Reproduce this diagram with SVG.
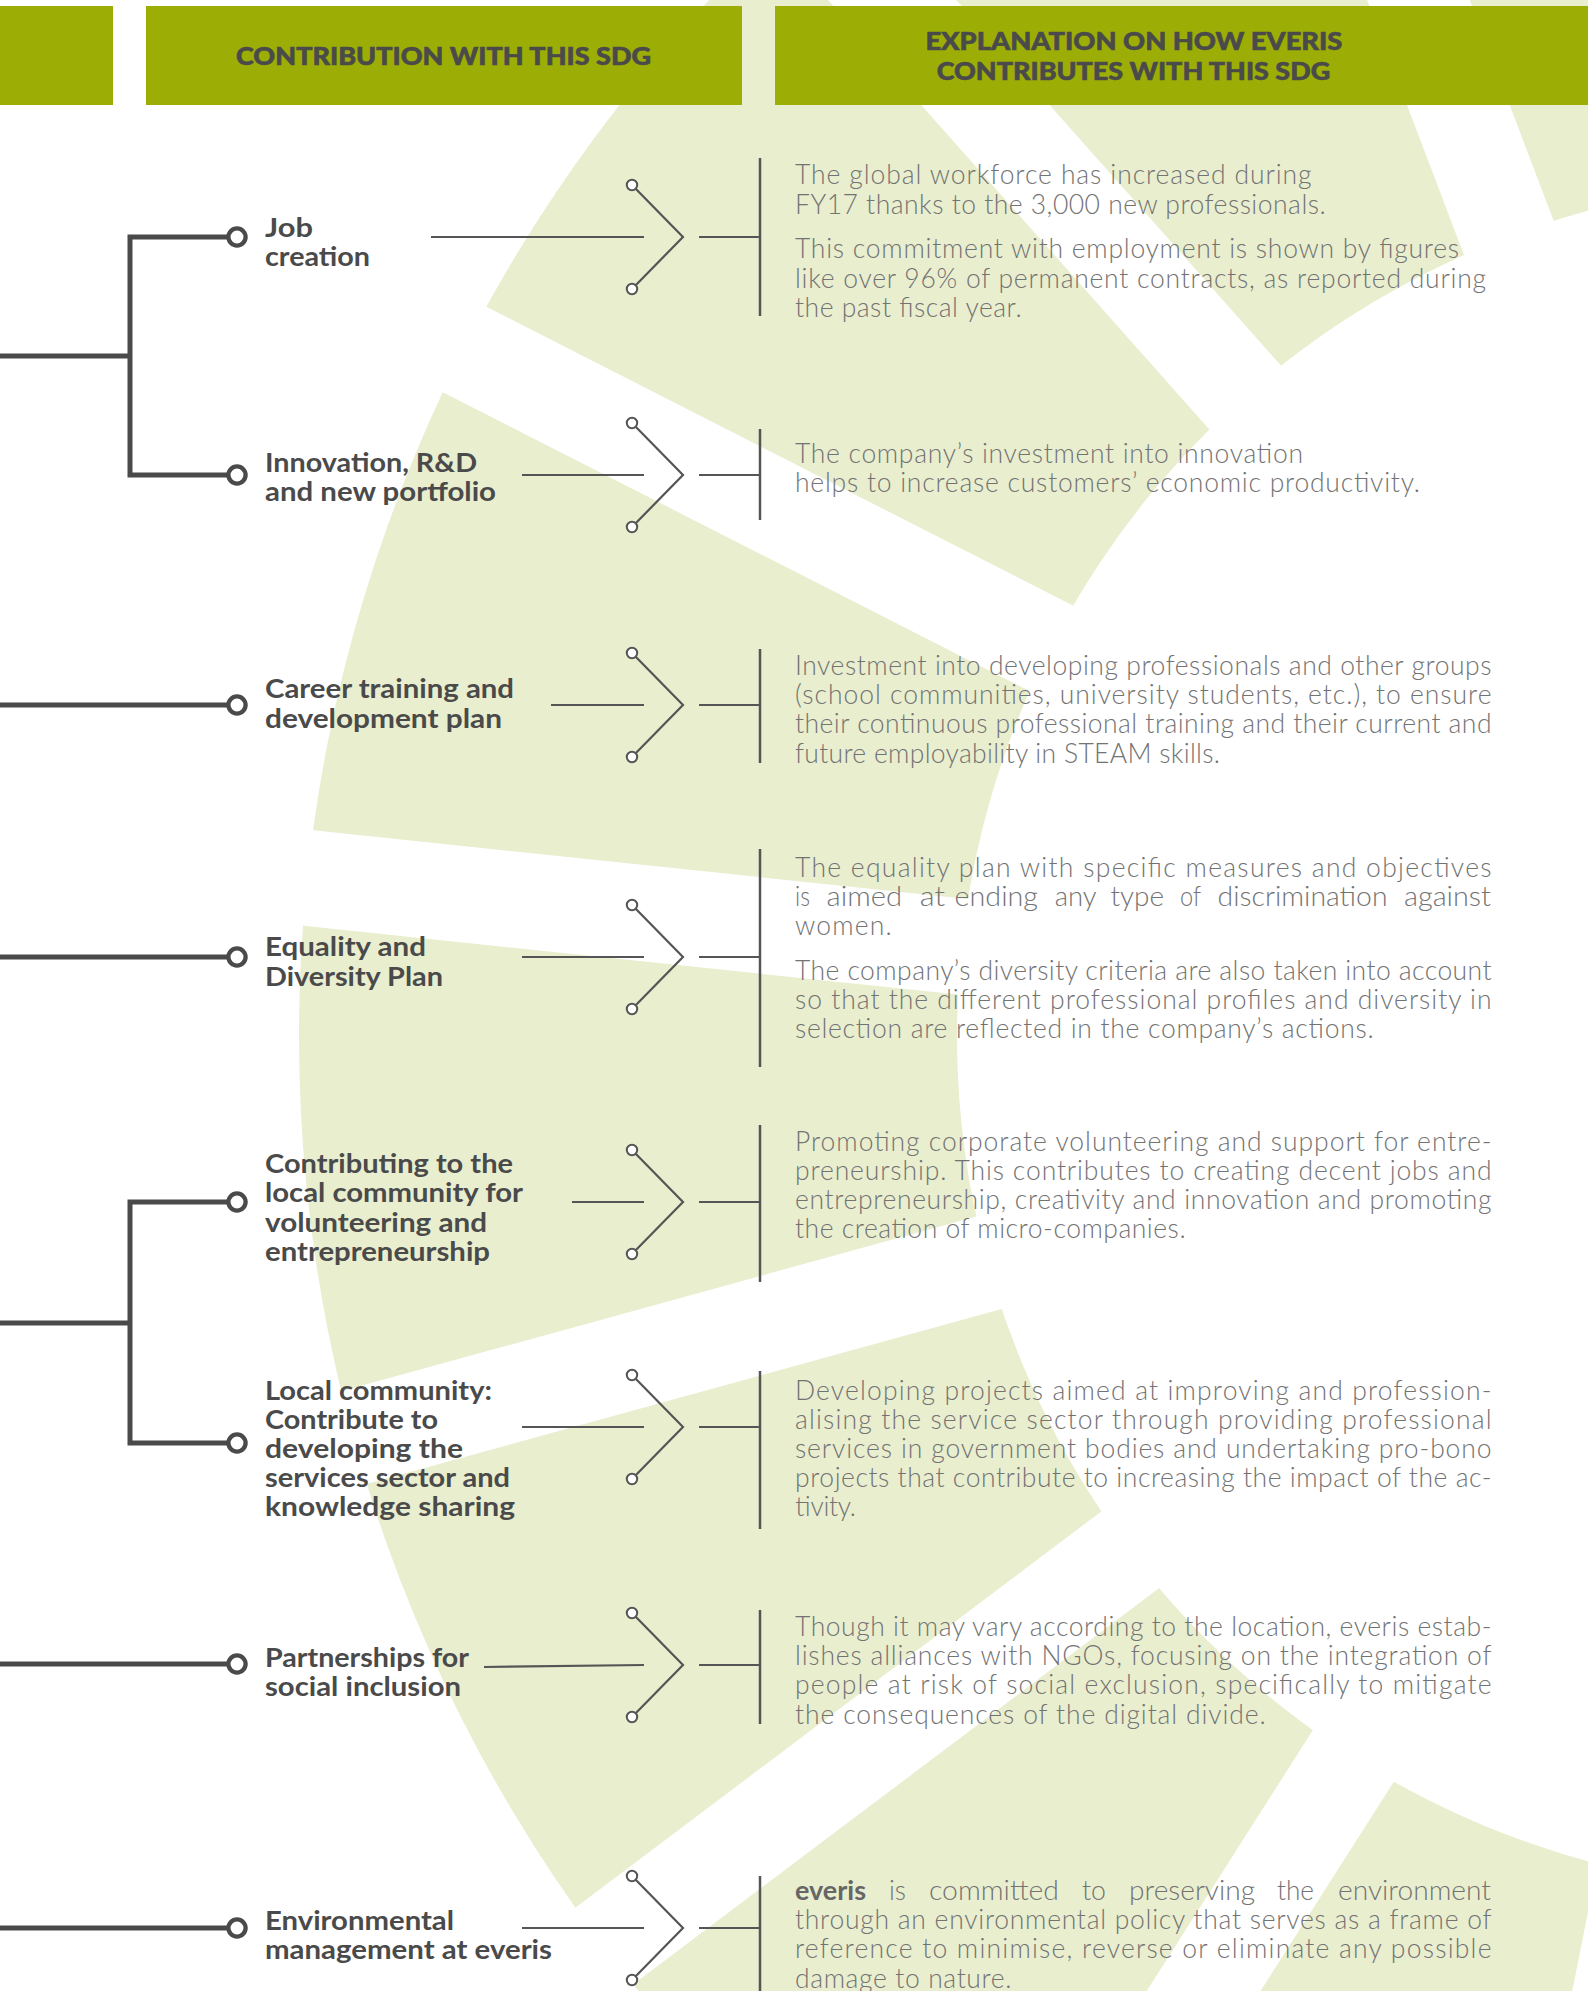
<svg xmlns="http://www.w3.org/2000/svg" xmlns:xlink="http://www.w3.org/1999/xlink" width="1588" height="1991" viewBox="0 0 1588 1991">
<defs>
<style>
.thick{fill:none;stroke:#4a4a4a;stroke-width:5}
.thin{fill:none;stroke:#555;stroke-width:2.2}
.bar{fill:none;stroke:#555;stroke-width:2.5}
.node{fill:#fff;stroke:#4a4a4a;stroke-width:4.3}
.pin{fill:#fff;stroke:#555;stroke-width:2}
.label{font-family:Lato,"Liberation Sans",sans-serif;font-weight:700;font-size:27px;fill:#4a4a4a}
.body{font-family:Lato,"Liberation Sans",sans-serif;font-weight:300;font-size:26.5px;fill:#737373}
.strong{font-weight:700;fill:#666}
.head{font-family:Lato,"Liberation Sans",sans-serif;font-weight:900;font-size:25px;fill:#4a4a4a;stroke:#4a4a4a;stroke-width:0.6}
.hbar{fill:#9cae06}
.ring{fill:#e9eecf}
.gap{fill:#fff}
</style>
<g id="chev">
<polyline class="thin" points="632,-52 683,0 632,52"/>
<circle class="pin" cx="632" cy="-52" r="5.2"/>
<circle class="pin" cx="632" cy="52" r="5.2"/>
<line class="thin" x1="699" y1="0" x2="760" y2="0"/>
</g>
</defs>
<rect width="1588" height="1991" fill="#fff"/>
<g id="background">
<path class="ring" fill-rule="evenodd" d="M299 1036a1513 1513 0 1 0 3026 0a1513 1513 0 1 0 -3026 0z M957 1036a855 855 0 1 0 1710 0a855 855 0 1 0 -1710 0z"/>
<g transform="translate(1812 1036)">
<rect class="gap" x="0" y="-48" width="1700" height="96" transform="rotate(101.3)"/>
<rect class="gap" x="0" y="-48" width="1700" height="96" transform="rotate(122.5)"/>
<rect class="gap" x="0" y="-48" width="1700" height="96" transform="rotate(143)"/>
<rect class="gap" x="0" y="-48" width="1700" height="96" transform="rotate(164.6)"/>
<rect class="gap" x="0" y="-48" width="1700" height="96" transform="rotate(186)"/>
<rect class="gap" x="0" y="-48" width="1700" height="96" transform="rotate(207)"/>
<rect class="gap" x="0" y="-48" width="1700" height="96" transform="rotate(228.4)"/>
<rect class="gap" x="0" y="-48" width="1700" height="96" transform="rotate(249.2)"/>
<rect class="gap" x="0" y="-48" width="1700" height="96" transform="rotate(270.4)"/>
</g>
</g>
<g id="header">
<rect class="hbar" x="0" y="6" width="113" height="99"/>
<g id="head-contribution">
<rect class="hbar" x="146" y="6" width="596" height="99"/>
<text class="head" x="236" y="65" textLength="415" lengthAdjust="spacingAndGlyphs">CONTRIBUTION WITH THIS SDG</text>
</g>
<g id="head-explanation">
<rect class="hbar" x="775" y="6" width="813" height="99"/>
<text class="head" x="925.4" y="50" textLength="417" lengthAdjust="spacingAndGlyphs">EXPLANATION ON HOW EVERIS</text>
<text class="head" x="936.7" y="80" textLength="393.5" lengthAdjust="spacingAndGlyphs">CONTRIBUTES WITH THIS SDG</text>
</g>
</g>
<g id="connectors">
<path class="thick" d="M0 356H130M228 237H130V475H228"/>
<path class="thick" d="M0 705H228"/>
<path class="thick" d="M0 957H228"/>
<path class="thick" d="M0 1323H130M228 1202H130V1443H228"/>
<path class="thick" d="M0 1664H228"/>
<path class="thick" d="M0 1928H228"/>
<line class="thin" x1="431" y1="237" x2="644" y2="237"/>
<line class="thin" x1="522" y1="475" x2="644" y2="475"/>
<line class="thin" x1="551" y1="705" x2="644" y2="705"/>
<line class="thin" x1="522" y1="957" x2="644" y2="957"/>
<line class="thin" x1="572" y1="1202" x2="644" y2="1202"/>
<line class="thin" x1="522" y1="1427" x2="644" y2="1427"/>
<line class="thin" x1="484" y1="1667" x2="644" y2="1665"/>
<line class="thin" x1="522" y1="1928" x2="644" y2="1928"/>
<use xlink:href="#chev" href="#chev" y="237"/>
<use xlink:href="#chev" href="#chev" y="475"/>
<use xlink:href="#chev" href="#chev" y="705"/>
<use xlink:href="#chev" href="#chev" y="957"/>
<use xlink:href="#chev" href="#chev" y="1202"/>
<use xlink:href="#chev" href="#chev" y="1427"/>
<use xlink:href="#chev" href="#chev" y="1665"/>
<use xlink:href="#chev" href="#chev" y="1928"/>
<line class="bar" x1="760" y1="158" x2="760" y2="316"/>
<line class="bar" x1="760" y1="429" x2="760" y2="520"/>
<line class="bar" x1="760" y1="649" x2="760" y2="763"/>
<line class="bar" x1="760" y1="849" x2="760" y2="1067"/>
<line class="bar" x1="760" y1="1125" x2="760" y2="1282"/>
<line class="bar" x1="760" y1="1371" x2="760" y2="1529"/>
<line class="bar" x1="760" y1="1610" x2="760" y2="1724"/>
<line class="bar" x1="760" y1="1876" x2="760" y2="1991"/>
</g>
<g id="node-job">
<circle class="node" cx="237" cy="237" r="8.6"/>
<text class="label" x="265" y="237" textLength="48" lengthAdjust="spacingAndGlyphs">Job</text>
<text class="label" x="265" y="266.4" textLength="105" lengthAdjust="spacingAndGlyphs">creation</text>
</g>
<g id="node-innovation">
<circle class="node" cx="237" cy="475" r="8.6"/>
<text class="label" x="265" y="472" textLength="212" lengthAdjust="spacingAndGlyphs">Innovation, R&amp;D</text>
<text class="label" x="265" y="500.5" textLength="231" lengthAdjust="spacingAndGlyphs">and new portfolio</text>
</g>
<g id="node-career">
<circle class="node" cx="237" cy="705" r="8.6"/>
<text class="label" x="265" y="698" textLength="249" lengthAdjust="spacingAndGlyphs">Career training and</text>
<text class="label" x="265" y="728" textLength="237" lengthAdjust="spacingAndGlyphs">development plan</text>
</g>
<g id="node-equality">
<circle class="node" cx="237" cy="957" r="8.6"/>
<text class="label" x="265" y="956" textLength="161" lengthAdjust="spacingAndGlyphs">Equality and</text>
<text class="label" x="265" y="985.5" textLength="178" lengthAdjust="spacingAndGlyphs">Diversity Plan</text>
</g>
<g id="node-contributing">
<circle class="node" cx="237" cy="1202" r="8.6"/>
<text class="label" x="265" y="1173" textLength="248" lengthAdjust="spacingAndGlyphs">Contributing to the</text>
<text class="label" x="265" y="1202" textLength="258" lengthAdjust="spacingAndGlyphs">local community for</text>
<text class="label" x="265" y="1231.5" textLength="222" lengthAdjust="spacingAndGlyphs">volunteering and</text>
<text class="label" x="265" y="1260.5" textLength="225" lengthAdjust="spacingAndGlyphs">entrepreneurship</text>
</g>
<g id="node-local">
<circle class="node" cx="237" cy="1443" r="8.6"/>
<text class="label" x="265" y="1399.6" textLength="227" lengthAdjust="spacingAndGlyphs">Local community:</text>
<text class="label" x="265" y="1428.7" textLength="173" lengthAdjust="spacingAndGlyphs">Contribute to</text>
<text class="label" x="265" y="1457.7" textLength="198" lengthAdjust="spacingAndGlyphs">developing the</text>
<text class="label" x="265" y="1487" textLength="245" lengthAdjust="spacingAndGlyphs">services sector and</text>
<text class="label" x="265" y="1516" textLength="250" lengthAdjust="spacingAndGlyphs">knowledge sharing</text>
</g>
<g id="node-partnerships">
<circle class="node" cx="237" cy="1664" r="8.6"/>
<text class="label" x="265" y="1666.6" textLength="204" lengthAdjust="spacingAndGlyphs">Partnerships for</text>
<text class="label" x="265" y="1695.8" textLength="196" lengthAdjust="spacingAndGlyphs">social inclusion</text>
</g>
<g id="node-environmental">
<circle class="node" cx="237" cy="1928" r="8.6"/>
<text class="label" x="265" y="1929.5" textLength="189" lengthAdjust="spacingAndGlyphs">Environmental</text>
<text class="label" x="265" y="1958.5" textLength="287" lengthAdjust="spacingAndGlyphs">management at everis</text>
</g>
<g id="desc-job" class="body">
<text x="795" y="184" textLength="516.6" lengthAdjust="spacing">The global workforce has increased during</text>
<text x="795" y="213.5" textLength="530.7" lengthAdjust="spacing">FY17 thanks to the 3,000 new professionals.</text>
<text x="795" y="258" textLength="664" lengthAdjust="spacing">This commitment with employment is shown by figures</text>
<text x="795" y="287.5" textLength="691" lengthAdjust="spacing">like over 96% of permanent contracts, as reported during</text>
<text x="795" y="317" textLength="226.6" lengthAdjust="spacing">the past fiscal year.</text>
</g>
<g id="desc-innovation" class="body">
<text x="795" y="463" textLength="508" lengthAdjust="spacing">The company’s investment into innovation</text>
<text x="795" y="492" textLength="625" lengthAdjust="spacing">helps to increase customers’ economic productivity.</text>
</g>
<g id="desc-career" class="body">
<text x="795" y="675" textLength="696.5" lengthAdjust="spacing">Investment into developing professionals and other groups</text>
<text x="795" y="704.2" textLength="696.5" lengthAdjust="spacing">(school communities, university students, etc.), to ensure</text>
<text x="795" y="733.4" textLength="696.5" lengthAdjust="spacing">their continuous professional training and their current and</text>
<text x="795" y="762.6" textLength="425" lengthAdjust="spacing">future employability in STEAM skills.</text>
</g>
<g id="desc-equality" class="body">
<text x="795" y="877" textLength="696.5" lengthAdjust="spacing">The equality plan with specific measures and objectives</text>
<text x="795" y="906.3" textLength="15" lengthAdjust="spacingAndGlyphs">is</text>
<text x="826.5" y="906.3" textLength="75.5" lengthAdjust="spacingAndGlyphs">aimed</text>
<text x="919.7" y="906.3" textLength="25.3" lengthAdjust="spacingAndGlyphs">at</text>
<text x="954.6" y="906.3" textLength="83.4" lengthAdjust="spacingAndGlyphs">ending</text>
<text x="1054.7" y="906.3" textLength="41.9" lengthAdjust="spacingAndGlyphs">any</text>
<text x="1110.5" y="906.3" textLength="53.5" lengthAdjust="spacingAndGlyphs">type</text>
<text x="1180" y="906.3" textLength="21" lengthAdjust="spacingAndGlyphs">of</text>
<text x="1217.6" y="906.3" textLength="169.9" lengthAdjust="spacingAndGlyphs">discrimination</text>
<text x="1404" y="906.3" textLength="87" lengthAdjust="spacingAndGlyphs">against</text>
<text x="795" y="935" textLength="96.7" lengthAdjust="spacing">women.</text>
<text x="795" y="979.6" textLength="696.5" lengthAdjust="spacing">The company’s diversity criteria are also taken into account</text>
<text x="795" y="1008.8" textLength="696.5" lengthAdjust="spacing">so that the different professional profiles and diversity in</text>
<text x="795" y="1038" textLength="578.6" lengthAdjust="spacing">selection are reflected in the company’s actions.</text>
</g>
<g id="desc-contributing" class="body">
<text x="795" y="1150.8" textLength="696.5" lengthAdjust="spacing">Promoting corporate volunteering and support for entre-</text>
<text x="795" y="1180" textLength="696.5" lengthAdjust="spacing">preneurship. This contributes to creating decent jobs and</text>
<text x="795" y="1209.2" textLength="696.5" lengthAdjust="spacing">entrepreneurship, creativity and innovation and promoting</text>
<text x="795" y="1238.4" textLength="390.6" lengthAdjust="spacing">the creation of micro-companies.</text>
</g>
<g id="desc-local" class="body">
<text x="795" y="1399.6" textLength="696.5" lengthAdjust="spacing">Developing projects aimed at improving and profession-</text>
<text x="795" y="1428.8" textLength="696.5" lengthAdjust="spacing">alising the service sector through providing professional</text>
<text x="795" y="1458" textLength="696.5" lengthAdjust="spacing">services in government bodies and undertaking pro-bono</text>
<text x="795" y="1487.2" textLength="696.5" lengthAdjust="spacing">projects that contribute to increasing the impact of the ac-</text>
<text x="795" y="1516.4" textLength="60.6" lengthAdjust="spacing">tivity.</text>
</g>
<g id="desc-partnerships" class="body">
<text x="795" y="1636" textLength="696.5" lengthAdjust="spacing">Though it may vary according to the location, everis estab-</text>
<text x="795" y="1665.2" textLength="696.5" lengthAdjust="spacing">lishes alliances with NGOs, focusing on the integration of</text>
<text x="795" y="1694.4" textLength="696.5" lengthAdjust="spacing">people at risk of social exclusion, specifically to mitigate</text>
<text x="795" y="1723.6" textLength="470.6" lengthAdjust="spacing">the consequences of the digital divide.</text>
</g>
<g id="desc-environmental" class="body">
<text class="strong" x="795" y="1900" textLength="71" lengthAdjust="spacingAndGlyphs">everis</text>
<text x="889" y="1900" textLength="17" lengthAdjust="spacingAndGlyphs">is</text>
<text x="929" y="1900" textLength="130" lengthAdjust="spacingAndGlyphs">committed</text>
<text x="1082" y="1900" textLength="24" lengthAdjust="spacingAndGlyphs">to</text>
<text x="1129" y="1900" textLength="126" lengthAdjust="spacingAndGlyphs">preserving</text>
<text x="1277" y="1900" textLength="37" lengthAdjust="spacingAndGlyphs">the</text>
<text x="1338" y="1900" textLength="153" lengthAdjust="spacingAndGlyphs">environment</text>
<text x="795" y="1929.2" textLength="696.5" lengthAdjust="spacing">through an environmental policy that serves as a frame of</text>
<text x="795" y="1958.4" textLength="696.5" lengthAdjust="spacing">reference to minimise, reverse or eliminate any possible</text>
<text x="795" y="1987.6" textLength="216.4" lengthAdjust="spacing">damage to nature.</text>
</g>
</svg>
